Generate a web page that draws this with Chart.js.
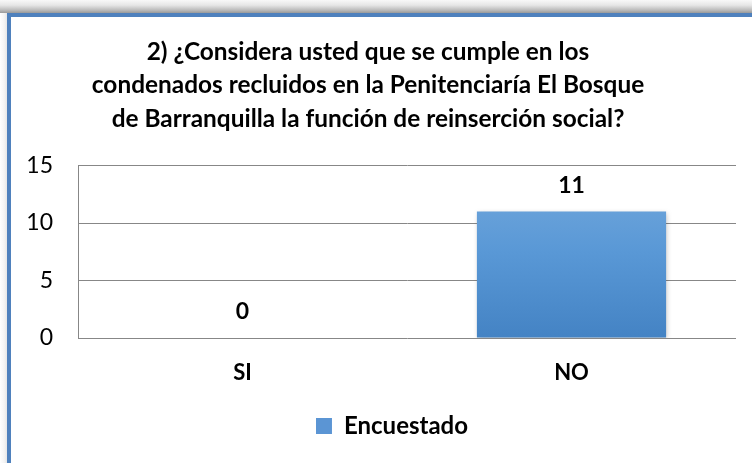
<!DOCTYPE html>
<html>
<head>
<meta charset="utf-8">
<script src="https://cdn.jsdelivr.net/npm/chart.js@4/dist/chart.umd.min.js"></script>
<style>
  html, body { margin: 0; padding: 0; background: #fff; width: 752px; height: 463px; overflow: hidden; }
  #shadowTop { position: absolute; left: 0; top: 0; width: 752px; height: 13px;
    background: linear-gradient(to bottom, #f8f8f8 0%, #e6e6e6 40%, #b8b8b8 80%, #9a9a9a 100%); }
  #shadowLeft { position: absolute; left: 0; top: 13px; width: 7px; height: 450px;
    background: linear-gradient(to right, #ffffff 0%, #f4f4f4 60%, #e6e6e6 100%); }
  #frame { position: absolute; left: 7px; top: 13px; width: 760px; height: 460px;
    border-top: 4px solid #4f81bd; border-left: 4px solid #4f81bd; background: #fff; }
  #wrap { position: absolute; left: 0; top: 0; width: 752px; height: 463px; }
</style>
</head>
<body>
<div id="shadowTop"></div>
<div id="shadowLeft"></div>
<div id="frame"></div>
<div id="wrap"><canvas id="c" width="752" height="463"></canvas></div>
<script>
const categories = ["SI", "NO"];
const seriesName = "Encuestado";
const values = [0, 11];
const yTicks = [0, 5, 10, 15];
const titleLines = [
  "2) ¿Considera usted que se cumple en los",
  "condenados recluidos en la Penitenciaría El Bosque",
  "de Barranquilla la función de reinserción social?"
];

const FONT = "Lato, 'Open Sans', sans-serif";

const valueLabels = {
  id: 'valueLabels',
  afterDatasetsDraw(chart) {
    const ctx = chart.ctx;
    const meta = chart.getDatasetMeta(0);
    ctx.save();
    ctx.font = "bold 23px " + FONT;
    ctx.fillStyle = "#000";
    ctx.textAlign = "center";
    ctx.textBaseline = "middle";
    meta.data.forEach((bar, i) => {
      ctx.fillText(String(values[i]), bar.x, bar.y - 26);
    });
    ctx.restore();
  }
};

const barShadow = {
  id: 'barShadow',
  beforeDatasetsDraw(chart) {
    chart.ctx.save();
    chart.ctx.shadowColor = 'rgba(0,0,0,0.25)';
    chart.ctx.shadowBlur = 5;
    chart.ctx.shadowOffsetX = 1;
    chart.ctx.shadowOffsetY = 1;
  },
  afterDatasetsDraw(chart) { chart.ctx.restore(); }
};

const legendShift = {
  id: 'legendShift',
  afterLayout(chart) {
    if (chart.legend) { chart.legend.left += 24; chart.legend.right += 24; }
  }
};

const chart = new Chart(document.getElementById('c'), {
  type: 'bar',
  data: {
    labels: categories,
    datasets: [{
      label: seriesName,
      data: values,
      backgroundColor: (ctx) => {
        const ca = ctx.chart.chartArea;
        if (!ca) return '#5b95d4';
        const g = ctx.chart.ctx.createLinearGradient(0, ca.top, 0, ca.bottom);
        g.addColorStop(0, '#76aadd');
        g.addColorStop(0.5, '#5998d6');
        g.addColorStop(1, '#4483c4');
        return g;
      },
      borderWidth: 0,
      categoryPercentage: 1,
      barPercentage: 0.575
    }]
  },
  options: {
    responsive: false,
    animation: false,
    layout: { padding: { left: 0, right: 16, top: 0, bottom: 15 } },
    plugins: {
      title: {
        display: true,
        text: titleLines,
        color: '#000',
        font: { family: FONT, size: 24.4, weight: 'bold', lineHeight: 1.373 },
        padding: { top: 35, bottom: 30 }
      },
      legend: {
        position: 'bottom',
        labels: {
          color: '#000',
          font: { family: FONT, size: 24, weight: 'bold' },
          boxWidth: 16, boxHeight: 16,
          padding: 10,
          generateLabels: (chart) => [{
            text: seriesName, fillStyle: '#5b95d4', strokeStyle: '#5b95d4', lineWidth: 0, datasetIndex: 0
          }]
        }
      },
      tooltip: { enabled: false }
    },
    scales: {
      x: {
        grid: { display: false, drawTicks: false },
        border: { display: false },
        ticks: { color: '#000', font: { family: FONT, size: 22, weight: 'bold' }, padding: 22 },
        afterFit: (s) => { s.height = 66; }
      },
      y: {
        min: 0, max: 15,
        afterBuildTicks: (s) => { s.ticks = yTicks.map(v => ({ value: v })); },
        grid: { color: '#878787', lineWidth: 1, drawTicks: false },
        border: { display: true, color: '#878787', width: 1 },
        ticks: { color: '#000', font: { family: FONT, size: 23 }, padding: 25 },
        afterFit: (s) => { s.width = 78; }
      }
    }
  },
  plugins: [barShadow, valueLabels, legendShift]
});
</script>
</body>
</html>
